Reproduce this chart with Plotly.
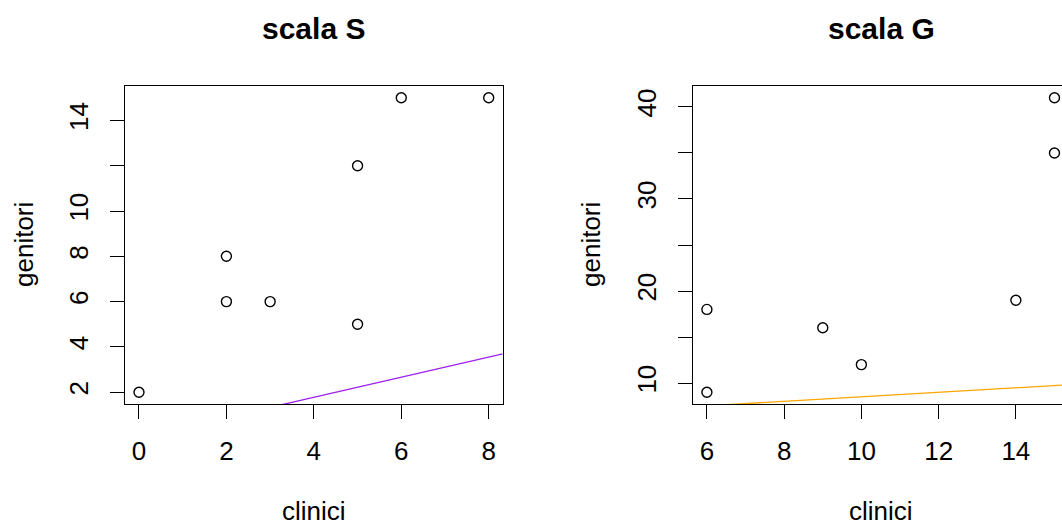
import plotly.graph_objects as go

# ---- data ----
s_clinici = [0, 2, 2, 3, 5, 5, 6, 8]
s_genitori = [2, 8, 6, 6, 12, 5, 15, 15]
s_line = {"intercept": 0.0, "slope": 0.444}

g_clinici = [6, 6, 9, 10, 14, 15, 15]
g_genitori = [18, 9, 16, 12, 19, 41, 35]
g_line = {"intercept": 6.05, "slope": 0.245}

s_xticks = [0, 2, 4, 6, 8]
s_yticks = [2, 4, 6, 8, 10, 12, 14]
s_ytext = ["2", "4", "6", "8", "10", "", "14"]
g_xticks = [6, 8, 10, 12, 14]
g_yticks = [10, 15, 20, 25, 30, 35, 40]
g_ytext = ["10", "", "20", "", "30", "", "40"]

titles = ["scala S", "scala G"]
xlab = "clinici"
ylab = "genitori"

W, H = 1062, 526
FONT = "Liberation Sans, Arial, sans-serif"

def rng(vals):
    lo, hi = min(vals), max(vals)
    d = (hi - lo) * 0.04
    return [lo - d, hi + d]

s_xr = rng(s_clinici)
s_yr = rng(s_genitori)
g_xr_full = rng(g_clinici)
g_yr = rng(g_genitori)

# right panel is clipped by the window edge
px_per_unit_g = 38.62
g_left_px = 693.0
g_xr = [g_xr_full[0], g_xr_full[0] + (W - g_left_px) / px_per_unit_g]

fig = go.Figure()

marker = dict(symbol="circle-open", size=10, color="black", line=dict(width=1.4, color="black"))

fig.add_trace(go.Scatter(x=s_clinici, y=s_genitori, mode="markers", marker=marker,
                         xaxis="x", yaxis="y", showlegend=False))
fig.add_trace(go.Scatter(x=s_xr, y=[s_line["intercept"] + s_line["slope"] * v for v in s_xr],
                         mode="lines", line=dict(color="#A020F0", width=1.3),
                         xaxis="x", yaxis="y", showlegend=False))
fig.add_trace(go.Scatter(x=g_clinici, y=g_genitori, mode="markers", marker=marker,
                         xaxis="x2", yaxis="y2", showlegend=False))
fig.add_trace(go.Scatter(x=g_xr, y=[g_line["intercept"] + g_line["slope"] * v for v in g_xr],
                         mode="lines", line=dict(color="#FFA500", width=1.3),
                         xaxis="x2", yaxis="y2", showlegend=False))

ydom = [(H - 404) / H, (H - 86) / H]
tickfont = dict(family=FONT, size=26, color="black")

common_x = dict(showgrid=False, zeroline=False, showline=True, linecolor="black", linewidth=1,
                ticks="outside", ticklen=14, tickcolor="black", tickwidth=1,
                tickfont=tickfont, ticklabelstandoff=10)
common_y = dict(showgrid=False, zeroline=False, showline=True, linecolor="black", linewidth=1,
                ticks="outside", ticklen=14, tickcolor="black", tickwidth=1,
                tickfont=tickfont, tickangle=-90, ticklabelstandoff=12)

fig.update_layout(
    width=W, height=H,
    margin=dict(l=0, r=0, t=0, b=0),
    paper_bgcolor="white", plot_bgcolor="white",
    xaxis=dict(domain=[125 / W, 502.7 / W], range=s_xr, tickvals=s_xticks, mirror=True, anchor="y", **common_x),
    yaxis=dict(domain=ydom, range=s_yr, tickvals=s_yticks, ticktext=s_ytext, mirror=True, anchor="x", **common_y),
    xaxis2=dict(domain=[g_left_px / W, 1.0], range=g_xr, tickvals=g_xticks, mirror=True, anchor="y2", **common_x),
    yaxis2=dict(domain=ydom, range=g_yr, tickvals=g_yticks, ticktext=g_ytext, mirror=False, anchor="x2", **common_y),
)

centers = [313.9, 881.3]
ylab_x = [24, 591]
ann = []
for i in range(2):
    ann.append(dict(text="<b>%s</b>" % titles[i], x=centers[i] / W, y=1 - 28 / H, xref="paper", yref="paper",
                    xanchor="center", yanchor="middle", showarrow=False,
                    font=dict(family=FONT, size=30, color="black")))
    ann.append(dict(text=xlab, x=centers[i] / W, y=1 - 511 / H, xref="paper", yref="paper",
                    xanchor="center", yanchor="middle", showarrow=False,
                    font=dict(family=FONT, size=26, color="black")))
    ann.append(dict(text=ylab, x=ylab_x[i] / W, y=1 - 245 / H, xref="paper", yref="paper",
                    xanchor="center", yanchor="middle", showarrow=False, textangle=-90,
                    font=dict(family=FONT, size=26, color="black")))
fig.update_layout(annotations=ann)

fig.write_html("out.html")
